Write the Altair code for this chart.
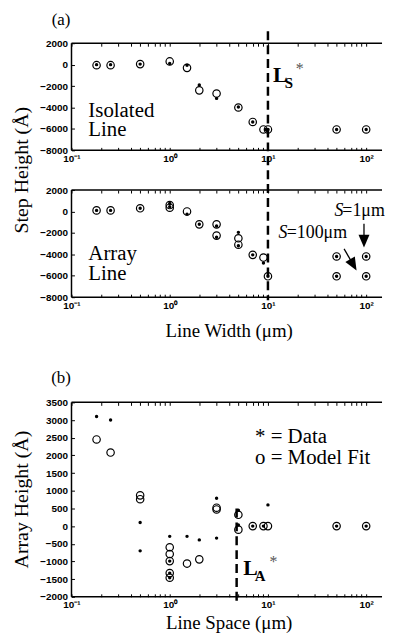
import altair as alt
import pandas as pd

# ---------------- data ----------------
# (a) upper: isolated line
iso_fit_x = [0.18, 0.25, 0.5, 1, 1.5, 2, 3, 5, 7, 9, 10, 50, 100]
iso_fit_y = [-50, -50, 50, 300, -300, -2400, -2700, -4000, -5350, -6050, -6050, -6050, -6050]
iso_dat_x = [0.18, 0.25, 0.5, 1, 1.5, 2, 3, 5, 7, 9.5, 10, 50, 100]
iso_dat_y = [0, 0, 50, 100, -50, -1900, -3150, -3950, -5350, -6050, -6050, -6050, -6050]

# (a) lower: array line
arr_fit_x = [0.18, 0.25, 0.5, 1, 1, 1.5, 2, 3, 3, 5, 5, 7, 9, 10, 50, 50, 100, 100]
arr_fit_y = [100, 100, 300, 600, 350, 0, -1200, -1200, -2250, -2500, -3100, -4050, -4300, -6050,
             -4200, -6050, -4200, -6050]
arr_dat_x = [0.18, 0.25, 0.5, 1, 1, 1.5, 2, 3, 3, 5, 5, 7, 9, 10, 50, 50, 100, 100]
arr_dat_y = [100, 100, 300, 750, 450, -250, -1200, -1350, -2400, -1950, -3200, -4050, -4800, -6050,
             -4200, -6050, -4200, -6050]

# (b) array height vs line space
sp_fit_x = [0.18, 0.25, 0.5, 0.5, 1, 1, 1, 1, 1, 1.5, 2, 3, 3, 5, 5, 7, 9, 10, 50, 100]
sp_fit_y = [2450, 2080, 870, 760, -600, -790, -990, -1330, -1460, -1060, -940, 520, 470, 320, -100,
            0, 0, 0, 0, 0]
sp_dat_x = [0.18, 0.25, 0.5, 0.5, 1, 1, 1, 1, 1.5, 2, 3, 3, 5, 5, 7, 9, 10, 50, 100]
sp_dat_y = [3100, 3000, 100, -700, -290, -990, -1330, -1460, -290, -390, 790, -340, 450, 30,
            0, 0, 600, 0, 0]

# critical widths (dashed lines)
ls_crit = [10]
la_crit = [4.8]

# arrows in panel (a) lower: start x, start y, end x, end y, head angle
arrow_x0 = [95, 59.6]
arrow_y0 = [-1150, -3490]
arrow_x1 = [95, 74]
arrow_y1 = [-2770, -4980]
arrow_ang = [0, 330]

X_DOMAIN = [0.1, 145]
X_TICKS = [round(m * 10.0 ** e, 6) for e in (-1, 0, 1) for m in range(1, 10)] + [100.0]
X_LABEL_EXPR = ("datum.value == 0.1 ? '10\u207b\u00b9' : datum.value == 1 ? '10\u2070' : "
                "datum.value == 10 ? '10\u00b9' : datum.value == 100 ? '10\u00b2' : ''")
STEP_DOMAIN = [-8000, 2000]
STEP_TICKS = [2000, 0, -2000, -4000, -6000, -8000]
ARR_DOMAIN = [-2000, 3500]
ARR_TICKS = list(range(3500, -2001, -500))

SERIF = "Liberation Serif"
SANS = "Liberation Sans"
W = 313
H_STEP = 108
H_ARR = 196

one = pd.DataFrame({"k": [0]})


def x_axis():
    return alt.Axis(values=X_TICKS, labelExpr=X_LABEL_EXPR, title=None, domain=False,
                    offset=-3, tickSize=3, tickColor="black", tickWidth=1,
                    labelFont=SANS, labelFontWeight="bold", labelFontSize=10,
                    labelColor="black", labelPadding=3, grid=False,
                    labelFlush=False, labelOverlap=False, orient="bottom")


def x_axis_top():
    return alt.Axis(values=X_TICKS, labels=False, title=None, domain=False,
                    offset=-3, tickSize=3, tickColor="black", tickWidth=1,
                    grid=False, orient="top")


def y_axis(ticks):
    return alt.Axis(values=ticks, format="d", title=None, domain=False,
                    offset=-3, tickSize=3, tickColor="black", tickWidth=1,
                    labelFont=SANS, labelFontWeight="bold", labelFontSize=10,
                    labelColor="black", labelPadding=4, grid=False,
                    labelFlush=False, labelOverlap=False)


XSCALE = alt.Scale(type="log", domain=X_DOMAIN, nice=False)


def x_enc(field="x", axis=None):
    return alt.X(f"{field}:Q", scale=XSCALE, axis=axis)


def y_enc(domain, ticks, field="y"):
    return alt.Y(f"{field}:Q", scale=alt.Scale(domain=domain, nice=False, zero=False),
                 axis=y_axis(ticks))


def label(txt, x, y, size, weight="normal", style="normal", color="black",
          align="left", baseline="alphabetic", angle=0, font=SERIF):
    return alt.Chart(one).mark_text(
        text=txt, align=align, baseline=baseline, fontSize=size, fontWeight=weight,
        fontStyle=style, color=color, font=font, angle=angle,
    ).encode(x=alt.value(x), y=alt.value(y))


def frame(h):
    left = alt.Chart(one).mark_rule(color="black", strokeWidth=1.5).encode(
        x=alt.value(0), y=alt.value(0), y2=alt.value(h))
    top = alt.Chart(one).mark_rule(color="black", strokeWidth=1.5).encode(
        x=alt.value(0), x2=alt.value(W), y=alt.value(0))
    bottom = alt.Chart(one).mark_rule(color="black", strokeWidth=1.5).encode(
        x=alt.value(0), x2=alt.value(W), y=alt.value(h))
    return [left, top, bottom]


def points(fx, fy, dx, dy, ydom, yticks):
    fit = pd.DataFrame({"x": fx, "y": fy})
    dat = pd.DataFrame({"x": dx, "y": dy})
    fit_layer = alt.Chart(fit).mark_point(
        shape="circle", filled=False, size=56, strokeWidth=1.2, color="black", opacity=1
    ).encode(x=x_enc(axis=x_axis()), y=y_enc(ydom, yticks))
    dat_layer = alt.Chart(dat).mark_point(
        shape="circle", filled=True, size=12, color="black", opacity=1
    ).encode(x=x_enc(), y=y_enc(ydom, yticks))
    top_ticks = alt.Chart(fit).mark_point(opacity=0, size=1).encode(
        x=x_enc(axis=x_axis_top()), y=y_enc(ydom, yticks))
    return [fit_layer, dat_layer, top_ticks]


def dashed(xval, y0, y1):
    return alt.Chart(pd.DataFrame({"x": xval})).mark_rule(
        color="black", strokeWidth=2.5, strokeDash=[9, 5]
    ).encode(x=x_enc(), y=alt.value(y0), y2=alt.value(y1))


# ---------------- panel (a) top ----------------
pin = alt.Chart(one).mark_rule(color="white", strokeWidth=1).encode(
    x=alt.value(-63.5), y=alt.value(-30), y2=alt.value(-29))

top = alt.layer(
    pin,
    *frame(H_STEP),
    *points(iso_fit_x, iso_fit_y, iso_dat_x, iso_dat_y, STEP_DOMAIN, STEP_TICKS),
    dashed(ls_crit, -12, 259),
    label("(a)", -10.5, -23.5, 17, align="center", baseline="middle"),
    label("Isolated", 17, 74, 21),
    label("Line", 17, 94, 21),
    label("L", 203, 39, 22, weight="bold"),
    label("S", 215, 45, 15, weight="bold"),
    label("*", 230, 31, 16, color="#555555", align="center"),
    label("Step Height (\u00c5)", -50, 128, 20, align="center", baseline="middle", angle=270),
).resolve_axis(x="independent").properties(width=W, height=H_STEP)

# ---------------- panel (a) bottom ----------------
arr_df = pd.DataFrame({"x": arrow_x0, "y": arrow_y0, "x2": arrow_x1, "y2": arrow_y1,
                       "ang": arrow_ang})
arrow_lines = alt.Chart(arr_df).mark_rule(color="black", strokeWidth=1.3).encode(
    x=x_enc(), y=y_enc(STEP_DOMAIN, STEP_TICKS),
    x2=alt.X2("x2:Q"), y2=alt.Y2("y2:Q"))
arrow_heads = alt.Chart(arr_df).mark_point(
    shape="M-0.85,-1L0.85,-1L0,1Z", filled=True, size=169, color="black", opacity=1,
    strokeWidth=0,
).encode(x=x_enc("x2"), y=y_enc(STEP_DOMAIN, STEP_TICKS, "y2"),
         angle=alt.Angle("ang:Q", scale=None))

mid = alt.layer(
    *frame(H_STEP),
    *points(arr_fit_x, arr_fit_y, arr_dat_x, arr_dat_y, STEP_DOMAIN, STEP_TICKS),
    arrow_lines,
    arrow_heads,
    label("Array", 17, 71, 21),
    label("Line", 17, 91, 21),
    label("S", 265, 26, 18, style="italic"),
    label("=1\u03bcm", 273, 26, 18),
    label("S", 208.7, 48, 18, style="italic"),
    label("=100\u03bcm", 217, 48, 18),
    label("Line Width (\u03bcm)", 159, 148, 19, align="center"),
).resolve_axis(x="independent").properties(width=W, height=H_STEP)

spacer = alt.Chart(one).mark_point(opacity=0).encode(
    x=alt.value(0), y=alt.value(0)).properties(width=W, height=26)

# ---------------- panel (b) ----------------
bot = alt.layer(
    *frame(H_ARR),
    *points(sp_fit_x, sp_fit_y, sp_dat_x, sp_dat_y, ARR_DOMAIN, ARR_TICKS),
    dashed(la_crit, 107, 205),
    label("(b)", -10.5, -25, 17, align="center", baseline="middle"),
    label("* = Data", 185, 41, 21),
    label("o = Model Fit", 185, 62, 21),
    label("L", 173, 174, 22, weight="bold"),
    label("A", 184.7, 180, 15, weight="bold"),
    label("*", 203.5, 166, 16, color="#555555", align="center"),
    label("Array Height (\u00c5)", -50, 98, 20, align="center", baseline="middle", angle=270),
    label("Line Space (\u03bcm)", 159, 228, 19, align="center"),
).resolve_axis(x="independent").properties(width=W, height=H_ARR)

chart = alt.vconcat(top, mid, spacer, bot, spacing=40, bounds="flush").properties(
    padding=0
).configure_view(stroke=None).configure_axis(grid=False)

chart.save("out.html", embed_options={"renderer": "svg", "actions": False})
